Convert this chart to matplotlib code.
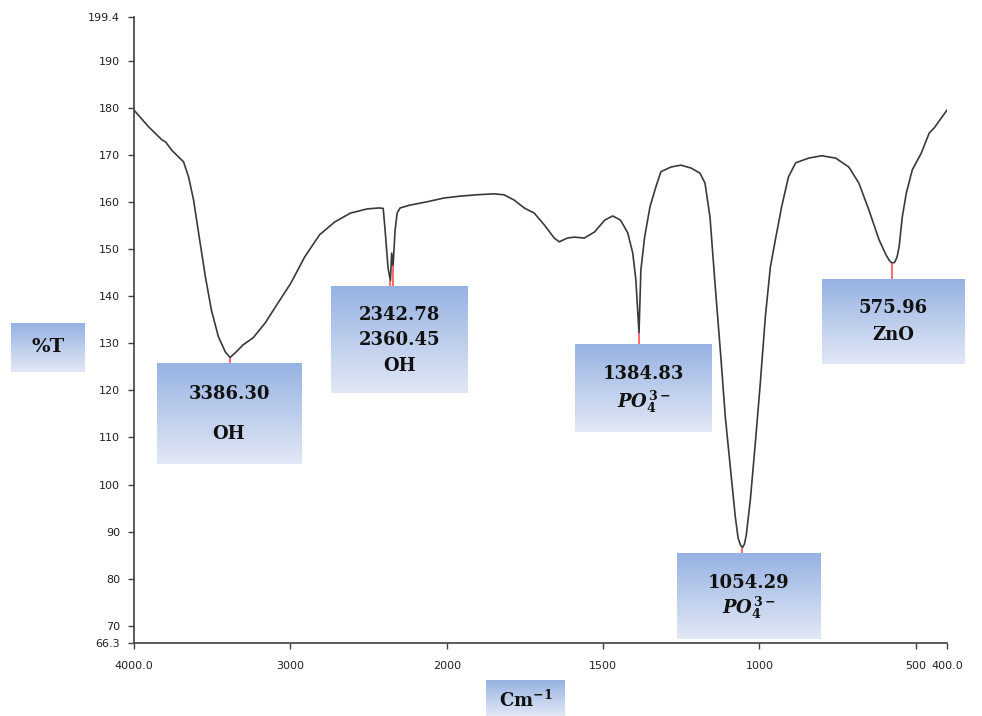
import numpy as np
import matplotlib
matplotlib.use('Agg')
import matplotlib.pyplot as plt
from matplotlib.colors import LinearSegmentedColormap

plt.rcParams['mathtext.fontset'] = 'custom'
plt.rcParams['mathtext.it'] = 'DejaVu Serif:italic:bold'
plt.rcParams['mathtext.rm'] = 'DejaVu Serif:bold'
plt.rcParams['mathtext.bf'] = 'DejaVu Serif:bold'

# FTIR spectrum (wavenumber cm-1, %T)
wavenumber = [4000, 3905, 3822, 3797, 3759, 3714, 3683, 3651, 3619, 3587,
              3543, 3505, 3460, 3416, 3386, 3352, 3302, 3238, 3162, 3079,
              2997, 2908, 2813, 2717, 2616, 2508, 2432, 2406, 2394, 2375,
              2360, 2352, 2343, 2330, 2317, 2298, 2235, 2127, 2019, 1958,
              1904, 1849, 1817, 1785, 1752, 1720, 1688, 1656, 1640, 1614,
              1592, 1560, 1527, 1495, 1469, 1444, 1421, 1405, 1395, 1385,
              1379, 1367, 1350, 1331, 1315, 1283, 1251, 1219, 1190, 1174,
              1158, 1142, 1125, 1109, 1093, 1077, 1068, 1061, 1054, 1048,
              1042, 1029, 1013, 997, 981, 965, 949, 929, 907, 884,
              842, 801, 756, 714, 682, 650, 617, 595, 584, 576,
              568, 560, 553, 543, 530, 511, 482, 457, 440, 400]
transmittance = [179.6, 176.0, 173.3, 172.8, 171.1, 169.6, 168.6, 165.4, 160.5, 153.5,
                 144.1, 137.1, 131.4, 128.2, 127.0, 128.0, 129.7, 131.2, 134.3, 138.6,
                 142.8, 148.4, 153.1, 155.8, 157.7, 158.6, 158.8, 158.7, 154.1, 146.0,
                 143.3, 149.2, 146.5, 154.1, 157.7, 158.8, 159.4, 160.1, 160.9, 161.3,
                 161.6, 161.8, 161.6, 160.5, 158.8, 157.7, 155.2, 152.4, 151.6, 152.4,
                 152.6, 152.4, 153.7, 156.2, 157.1, 156.2, 153.5, 149.2, 143.5, 132.2,
                 145.6, 152.6, 159.0, 163.3, 166.5, 167.5, 167.9, 167.3, 166.2, 164.1,
                 156.9, 142.8, 128.6, 114.4, 103.7, 93.1, 88.6, 87.2, 86.6, 87.3,
                 89.2, 96.7, 108.8, 121.6, 135.6, 146.2, 152.0, 159.0, 165.4, 168.4,
                 169.4, 169.9, 169.4, 167.5, 164.1, 158.4, 152.0, 148.8, 147.6, 147.1,
                 147.2, 148.3, 150.6, 156.9, 162.0, 166.9, 170.5, 174.7, 175.9, 179.6]

# labelled peaks
peak_pos = [3386.30, 2360.45, 2342.78, 1384.83, 1054.29, 575.96]
peak_T = [127.0, 143.3, 146.5, 132.2, 86.6, 147.1]
peak_box = [0, 1, 1, 2, 3, 4]  # which label box each peak points to

box_texts = [["3386.30", "OH"],
             ["2342.78", "2360.45", "OH"],
             ["1384.83", r"$PO_4^{3-}$"],
             ["1054.29", r"$PO_4^{3-}$"],
             ["575.96", "ZnO"]]

xticks = [4000, 3000, 2000, 1500, 1000, 500, 400]
xtick_labels = ["4000.0", "3000", "2000", "1500", "1000", "500", "400.0"]
yticks = [66.3, 70, 80, 90, 100, 110, 120, 130, 140, 150, 160, 170, 180, 190, 199.4]
ytick_labels = ["66.3", "70", "80", "90", "100", "110", "120", "130", "140",
                "150", "160", "170", "180", "190", "199.4"]

W, H = 982, 716


# spectrometer style axis: 4000-2000 compressed by 2
def fwd(x):
    x = np.asarray(x, dtype=float)
    return np.where(x > 2000, 2000 + (x - 2000) / 2.0, x)


def inv(p):
    p = np.asarray(p, dtype=float)
    return np.where(p > 2000, 2000 + (p - 2000) * 2.0, p)


fig = plt.figure(figsize=(W / 100, H / 100), dpi=100)
ax = fig.add_axes([134 / W, (H - 643) / H, (947 - 134) / W, (643 - 17) / H])
ax.set_xscale('function', functions=(fwd, inv))
ax.plot(wavenumber, transmittance, color='#3a3a3a', lw=1.2, solid_joinstyle='round')
ax.set_xlim(4000, 400)
ax.set_ylim(66.3, 199.4)

ax.set_xticks(xticks)
ax.set_xticklabels(xtick_labels)
ax.set_yticks(yticks)
ax.set_yticklabels(ytick_labels)
ax.xaxis.set_minor_locator(plt.NullLocator())
ax.tick_params(axis='both', labelsize=8, color='#404040', length=4, width=1,
               labelcolor='#222222')
ax.tick_params(axis='x', pad=9)
ax.tick_params(axis='y', pad=6)
for side in ['top', 'right']:
    ax.spines[side].set_visible(False)
for side in ['left', 'bottom']:
    ax.spines[side].set_color('#404040')
    ax.spines[side].set_linewidth(1.2)

# label boxes in pixel layout: x0, x1, y0 (top), y1 (bottom)
boxes = [(157, 301, 363, 464),
         (331, 468, 286, 393),
         (575, 712, 344, 432),
         (677, 821, 553, 639),
         (822, 965, 279, 364)]
line_y = [[394, 434], [315, 340, 366], [374, 402], [583, 608], [308, 335]]

grad_cmap = LinearSegmentedColormap.from_list('box', ['#96b2e2', '#e2e8f6'])
grad = np.linspace(0, 1, 256).reshape(-1, 1)


def grad_box(x0, x1, y0, y1):
    bax = fig.add_axes([x0 / W, (H - y1) / H, (x1 - x0) / W, (y1 - y0) / H])
    bax.imshow(grad, cmap=grad_cmap, aspect='auto', extent=[0, 1, 0, 1])
    bax.set_xlim(0, 1)
    bax.set_ylim(0, 1)
    bax.axis('off')
    return bax


for (x0, x1, y0, y1), lines, ys in zip(boxes, box_texts, line_y):
    bax = grad_box(x0, x1, y0, y1)
    for txt, yp in zip(lines, ys):
        bax.text(0.5, (y1 - yp) / (y1 - y0), txt, ha='center', va='center',
                 fontsize=13, fontweight='bold', family='DejaVu Serif', color='#111111')

# red connectors from each peak down to its box
to_data = ax.transData.inverted()
for pw, pt, bi in zip(peak_pos, peak_T, peak_box):
    top = to_data.transform((0, H - boxes[bi][2]))[1]
    ax.vlines(pw, top, pt, color='#ff5050', lw=1.2, zorder=3)

# axis titles as boxes
bax = grad_box(11, 85, 323, 372)
bax.text(0.5, 0.5, "%T", ha='center', va='center', fontsize=14,
         fontweight='bold', family='DejaVu Serif', color='#111111')
bax = grad_box(486, 565, 680, 716)
bax.text(0.5, 0.45, r"Cm$^{-1}$", ha='center', va='center', fontsize=13,
         fontweight='bold', family='DejaVu Serif', color='#111111')

fig.savefig('out.png', dpi=100)
